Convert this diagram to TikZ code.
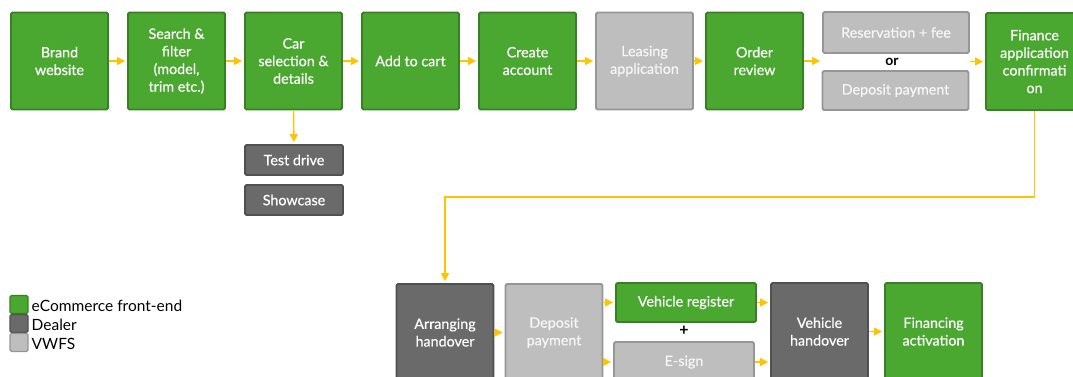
\documentclass[tikz,border=0pt]{standalone}
\usepackage{fontspec}
\setmainfont{Lato}
\newfontfamily\boxfont{Lato}[FakeBold=0.5]
\usepackage{xcolor}
\usepackage{tikz}
\usetikzlibrary{arrows.meta, positioning}

\definecolor{ecomfill}{RGB}{74,167,48}
\definecolor{ecomline}{RGB}{56,128,36}
\definecolor{dealerfill}{RGB}{106,106,106}
\definecolor{dealerline}{RGB}{80,80,80}
\definecolor{vwfsfill}{RGB}{190,190,190}
\definecolor{vwfsline}{RGB}{150,150,150}
\definecolor{flowyellow}{RGB}{255,196,0}

\begin{document}
\begin{tikzpicture}[->,>={Triangle[length=8pt,width=8pt]},shorten >=2pt,x=1pt,y=-1pt,node distance=117pt,line width=1.4pt,draw=flowyellow]

                \tikzset{every node/.style={font=\boxfont\fontsize{14.3}{17.6}\selectfont, align=center, inner sep=1pt},
                         ecom/.style={draw=ecomline, fill=ecomfill, text=white, rounded corners=1.5pt, line width=1.8pt},
                         dealer/.style={draw=dealerline, fill=dealerfill, text=white, rounded corners=1.5pt, line width=1.8pt},
                         vwfs/.style={draw=vwfsline, fill=vwfsfill, text=white!97!black, rounded corners=1.5pt, line width=1.8pt},
                         bigbox/.style={minimum width=97pt, minimum height=97pt},
                         widebox/.style={minimum width=146pt, minimum height=40pt},
                         sidebox/.style={minimum width=98pt, minimum height=30pt},
                         keybox/.style={minimum size=18pt, line width=1.2pt},
                         keytext/.style={font=\fontsize{15.5}{18}\selectfont, text=black, anchor=west}}

                \path[use as bounding box, -] (0,0) rectangle (1073,376);
                \path[clip, -] (0,0) rectangle (1073,376);

                % first row
                \node[ecom, bigbox] (brand) at (59.5,61) {Brand\\website};
                \node[ecom, bigbox] (search) [right of=brand] {Search \&\\filter\\(model,\\trim etc.)};
                \node[ecom, bigbox] (car) [right of=search] {Car\\selection \&\\details};
                \node[ecom, bigbox] (cart) [right of=car] {Add to cart};
                \node[ecom, bigbox] (account) [right of=cart] {Create\\account};
                \node[vwfs, bigbox] (leasing) [right of=account] {Leasing\\application};
                \node[ecom, bigbox] (order) [right of=leasing, node distance=110pt] {Order\\review};
                \node[vwfs, widebox, minimum height=41pt] (reserve) at (896,32.5) {Reservation + fee};
                \node[text=black, font=\fontsize{14}{16}\bfseries] (or) at (892,62) {or};
                \node[vwfs, widebox, minimum height=39pt] (deposit) at (895.5,90.5) {Deposit payment};
                \node[ecom, bigbox] (finance) at (1034.5,61.5) {Finance\\application\\confirmati\\on};

                % side options under car selection
                \node[dealer, sidebox] (test) at (294,160) {Test drive};
                \node[dealer, sidebox] (show) [below of=test, node distance=40pt] {Showcase};

                % second row
                \node[dealer, bigbox] (arrange) at (445,332.5) {Arranging\\handover};
                \node[vwfs, bigbox] (pay) [right of=arrange, node distance=109pt] {Deposit\\payment};
                \node[ecom, widebox, minimum width=140pt, minimum height=39pt] (register) at (686,302.5) {Vehicle register};
                \node[text=black, font=\fontsize{16}{16}\bfseries] (plus) at (684,331) {+};
                \node[vwfs, widebox, minimum width=140pt] (esign) at (684,362) {E-sign};
                \node[dealer, bigbox] (handover) at (819.5,331.5) {Vehicle\\handover};
                \node[ecom, bigbox] (activate) [right of=handover, node distance=114pt] {Financing\\activation};

                % legend
                \node[ecom, keybox] (keyecom) at (19,304.5) {};
                \node[dealer, keybox] (keydealer) at (19,323.5) {};
                \node[vwfs, keybox] (keyvwfs) at (19,342.5) {};
                \node[keytext] (lblecom) at (30,306) {eCommerce front-end};
                \node[keytext] (lbldealer) at (30,325) {Dealer};
                \node[keytext] (lblvwfs) at (30,344) {VWFS};

                \coordinate (bend) at (445,197);

                \path (brand) edge (search);
                \path (search) edge (car);
                \path (car) edge (cart);
                \path (cart) edge (account);
                \path (account) edge (leasing);
                \path (leasing) edge (order);
                \draw (order.east) -- (order.east -| reserve.west);
                \draw (reserve.east |- finance.west) -- (finance.west);
                \draw (car.south) -- (test.north);
                \draw (finance.south) |- (bend) -- (arrange.north);
                \path (arrange) edge (pay);
                \draw (pay.east |- register.west) -- (register.west);
                \draw (pay.east |- esign.west) -- (esign.west);
                \draw (register.east) -- (register.east -| handover.west);
                \draw (esign.east) -- (esign.east -| handover.west);
                \path (handover) edge (activate);
            \end{tikzpicture}
\end{document}
